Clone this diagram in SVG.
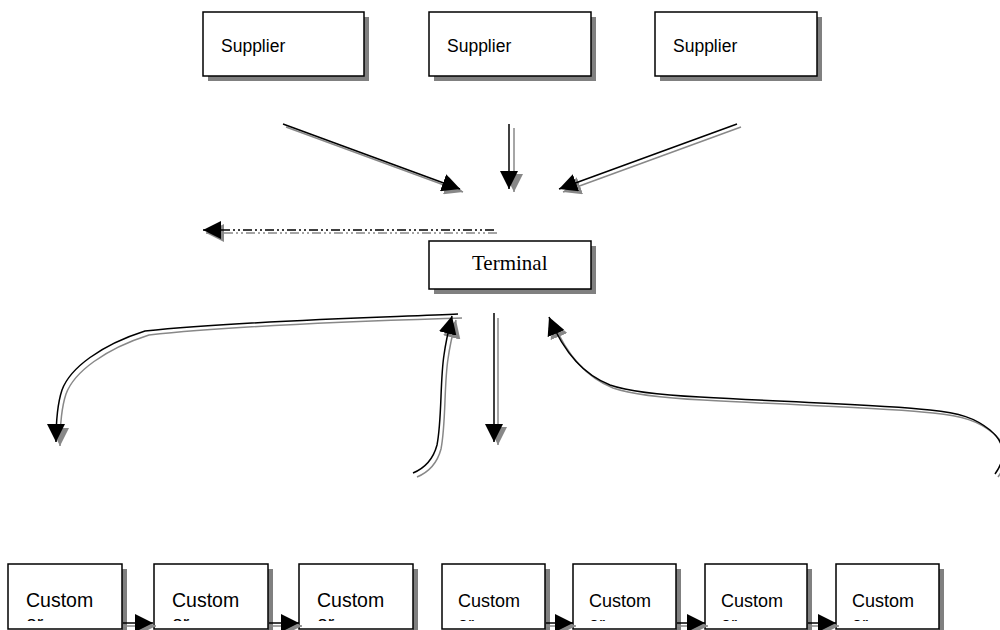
<svg xmlns="http://www.w3.org/2000/svg" width="1000" height="630" viewBox="0 0 1000 630">
  <style>
    .box { fill: #ffffff; stroke: #000000; stroke-width: 1.5; }
    .shadow { fill: #808080; }
    .sans { font-family: "Liberation Sans", Arial, sans-serif; fill: #000000; }
    .serif { font-family: "Liberation Serif", "Times New Roman", serif; fill: #000000; }
    .ln { fill: none; stroke: #000000; stroke-width: 1.5; }
    .lns { fill: none; stroke: #888888; stroke-width: 1.5; }
    .dd { stroke-dasharray: 9 3 2 3 2 3; }
  </style>
  <defs>
    <marker id="ah" markerUnits="userSpaceOnUse" markerWidth="20" markerHeight="18" refX="18" refY="9" orient="auto">
      <path d="M0,0 L18,9 L0,18 z" fill="#000000"/>
    </marker>
    <marker id="ahs" markerUnits="userSpaceOnUse" markerWidth="20" markerHeight="18" refX="18" refY="9" orient="auto">
      <path d="M0,0 L18,9 L0,18 z" fill="#888888"/>
    </marker>
    <!-- text frame of the customer boxes cuts the second line -->
    <clipPath id="textclip" clipPathUnits="userSpaceOnUse">
      <rect x="0" y="0" width="1000" height="621"/>
    </clipPath>
  </defs>

  <!-- suppliers -->
  <g id="supplier-1">
    <rect class="shadow" x="208" y="17" width="161" height="64"/>
    <rect class="box" x="203" y="12" width="161" height="64"/>
    <text class="sans" x="221" y="51.5" font-size="17.5">Supplier</text>
  </g>
  <g id="supplier-2">
    <rect class="shadow" x="434" y="17" width="162" height="64"/>
    <rect class="box" x="429" y="12" width="162" height="64"/>
    <text class="sans" x="447" y="51.5" font-size="17.5">Supplier</text>
  </g>
  <g id="supplier-3">
    <rect class="shadow" x="660" y="17" width="162" height="64"/>
    <rect class="box" x="655" y="12" width="162" height="64"/>
    <text class="sans" x="673" y="51.5" font-size="17.5">Supplier</text>
  </g>

  <!-- terminal -->
  <g id="terminal">
    <rect class="shadow" x="434" y="246" width="162" height="48"/>
    <rect class="box" x="429" y="241" width="162" height="48"/>
    <text class="serif" x="472" y="270" font-size="21">Terminal</text>
  </g>

  <!-- customers -->
  <g id="customer-1">
    <rect class="shadow" x="122" y="569" width="5" height="70"/>
    <rect class="box" x="8" y="564" width="114" height="65"/>
    <g clip-path="url(#textclip)"><text class="sans" x="26" y="607" font-size="19.5">Custom<tspan x="26" y="630">er</tspan></text></g>
  </g>
  <g id="customer-2">
    <rect class="shadow" x="268" y="569" width="5" height="70"/>
    <rect class="box" x="154" y="564" width="114" height="65"/>
    <g clip-path="url(#textclip)"><text class="sans" x="172" y="607" font-size="19.5">Custom<tspan x="172" y="630">er</tspan></text></g>
  </g>
  <g id="customer-3">
    <rect class="shadow" x="413" y="569" width="5" height="70"/>
    <rect class="box" x="299" y="564" width="114" height="65"/>
    <g clip-path="url(#textclip)"><text class="sans" x="317" y="607" font-size="19.5">Custom<tspan x="317" y="630">er</tspan></text></g>
  </g>
  <g id="customer-4">
    <rect class="shadow" x="545" y="569" width="5" height="70"/>
    <rect class="box" x="442" y="564" width="103" height="65"/>
    <g clip-path="url(#textclip)"><text class="sans" x="458" y="607" font-size="18">Custom<tspan x="458" y="630">er</tspan></text></g>
  </g>
  <g id="customer-5">
    <rect class="shadow" x="676" y="569" width="5" height="70"/>
    <rect class="box" x="573" y="564" width="103" height="65"/>
    <g clip-path="url(#textclip)"><text class="sans" x="589" y="607" font-size="18">Custom<tspan x="589" y="630">er</tspan></text></g>
  </g>
  <g id="customer-6">
    <rect class="shadow" x="807" y="569" width="5" height="70"/>
    <rect class="box" x="705" y="564" width="102" height="65"/>
    <g clip-path="url(#textclip)"><text class="sans" x="721" y="607" font-size="18">Custom<tspan x="721" y="630">er</tspan></text></g>
  </g>
  <g id="customer-7">
    <rect class="shadow" x="939" y="569" width="5" height="70"/>
    <rect class="box" x="836" y="564" width="103" height="65"/>
    <g clip-path="url(#textclip)"><text class="sans" x="852" y="607" font-size="18">Custom<tspan x="852" y="630">er</tspan></text></g>
  </g>

  <!-- connectors: grey offset copy first, black line on top -->
  <g id="connectors">
    <!-- suppliers to terminal -->
    <path class="lns" d="M286,127 L463,192" marker-end="url(#ahs)"/>
    <path class="ln" d="M283,124 L460,189" marker-end="url(#ah)"/>
    <path class="lns" d="M514,128 L514,192" marker-end="url(#ahs)"/>
    <path class="ln" d="M509,124 L509,189" marker-end="url(#ah)"/>
    <path class="lns" d="M741,127 L563,192" marker-end="url(#ahs)"/>
    <path class="ln" d="M737,124 L559,189" marker-end="url(#ah)"/>

    <!-- dash-dot-dot line leaving terminal -->
    <path class="lns dd" d="M497,233 L206,233" marker-end="url(#ahs)"/>
    <path class="ln dd" d="M494,230 L203,230" marker-end="url(#ah)"/>

    <!-- terminal sweep to the left -->
    <path class="lns" d="M462,318 C400,320 250,324 149,335 C105,349 74,372 66,394 C61,409 60,425 60,446" marker-end="url(#ahs)"/>
    <path class="ln" d="M458,314 C400,317 250,320 145,331 C101,345 70,368 62,390 C57,405 56,421 56,442" marker-end="url(#ah)"/>

    <!-- return from below into terminal -->
    <path class="lns" d="M417,477 C429,472 437,464 441,449 C446,424 444,384 448,359 C450,344 453,332 456,320" marker-end="url(#ahs)"/>
    <path class="ln" d="M413,473 C425,468 433,460 437,445 C442,420 440,380 444,355 C446,340 449,328 452,316" marker-end="url(#ah)"/>

    <!-- terminal straight down -->
    <path class="lns" d="M498,318 L498,445" marker-end="url(#ahs)"/>
    <path class="ln" d="M494,313 L494,442" marker-end="url(#ah)"/>

    <!-- long return from the right -->
    <path class="lns" d="M998,477 C1008,463 1011,448 993,433 C978,421 963,416 933,413 C883,407 803,406 703,400 C663,398 633,395 613,388 C588,378 568,358 552,320" marker-end="url(#ahs)"/>
    <path class="ln" d="M995,474 C1005,460 1008,445 990,430 C975,418 960,413 930,410 C880,404 800,403 700,397 C660,395 630,392 610,385 C585,375 565,355 549,317" marker-end="url(#ah)"/>

    <!-- customer chain -->
    <path class="lns" d="M123,626 L156,626" marker-end="url(#ahs)"/>
    <path class="ln" d="M123,623 L153,623" marker-end="url(#ah)"/>
    <path class="lns" d="M269,626 L302,626" marker-end="url(#ahs)"/>
    <path class="ln" d="M269,623 L299,623" marker-end="url(#ah)"/>
    <path class="lns" d="M546,626 L576,626" marker-end="url(#ahs)"/>
    <path class="ln" d="M546,623 L573,623" marker-end="url(#ah)"/>
    <path class="lns" d="M677,626 L708,626" marker-end="url(#ahs)"/>
    <path class="ln" d="M677,623 L705,623" marker-end="url(#ah)"/>
    <path class="lns" d="M808,626 L839,626" marker-end="url(#ahs)"/>
    <path class="ln" d="M808,623 L836,623" marker-end="url(#ah)"/>
  </g>
</svg>
